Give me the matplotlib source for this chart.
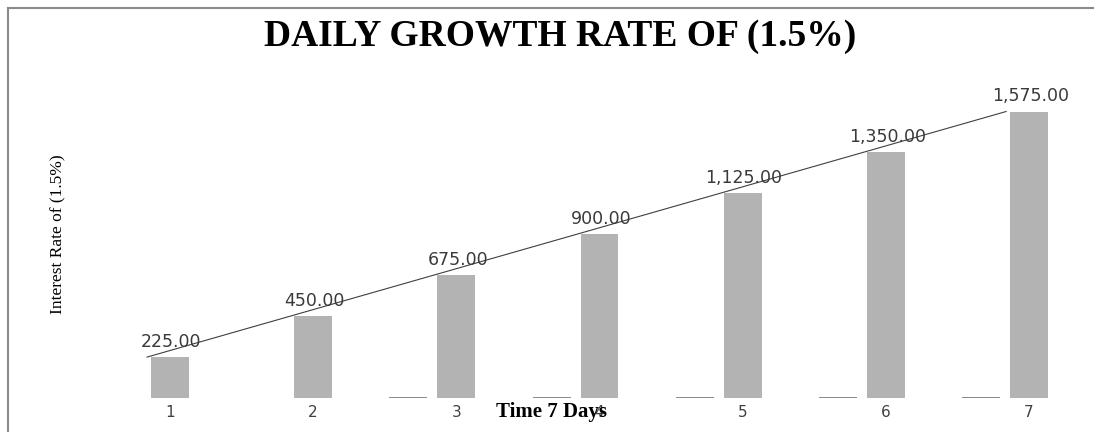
import matplotlib
matplotlib.use("Agg")
import matplotlib.pyplot as plt
import numpy as np
from matplotlib.lines import Line2D

# ---- data ----
days = [1, 2, 3, 4, 5, 6, 7]
day_labels = ["1", "2", "3", "4", "5", "6", "7"]
day_series = [1, 2, 3, 4, 5, 6, 7]
interest = [225, 450, 675, 900, 1125, 1350, 1575]
title = "DAILY GROWTH RATE OF (1.5%)"
ylabel = "Interest Rate of (1.5%)"
xlabel = "Time 7 Days"

W_PX, H_PX = 1094, 432
fig = plt.figure(figsize=(W_PX / 100, H_PX / 100), dpi=100)

# axes in pixel geometry
ax_l, ax_r, ax_top, ax_bot = 100, 1080, 80, 398
ax = fig.add_axes([ax_l / W_PX, (H_PX - ax_bot) / H_PX,
                   (ax_r - ax_l) / W_PX, (ax_bot - ax_top) / H_PX])

x = np.array(days, dtype=float)
bar_w = 0.265
ax.bar(x - 0.335, day_series, width=bar_w, color="#8c8c8c", zorder=2)
ax.bar(x, interest, width=bar_w, color="#b3b3b3", zorder=2)
ax.plot(x - 0.16, interest, color="#404040", lw=0.8, zorder=3)

for xi, v in zip(x, interest):
    ax.annotate(f"{v:,.2f}", (xi, v), xytext=(1, 11), textcoords="offset points",
                ha="center", va="center", fontsize=12.5, color="#3a3a3a",
                family="DejaVu Sans", zorder=4)

ax.set_xlim((ax_l - 26.83) / 143.17, (ax_r - 26.83) / 143.17)
ax.set_ylim(0, (ax_bot - ax_top) / 0.1819)
ax.set_xticks(x)
ax.set_xticklabels(day_labels, fontsize=11, color="#404040", family="DejaVu Sans")
ax.tick_params(axis="x", length=0, pad=5)
ax.set_yticks([])
for s in ax.spines.values():
    s.set_visible(False)
ax.patch.set_alpha(0)

# titles
fig.text(560 / W_PX, 1 - 37 / H_PX, title, ha="center", va="center",
         fontsize=27, fontweight="bold", family="Liberation Serif", color="black")
fig.text(58 / W_PX, 1 - 234 / H_PX, ylabel, ha="center", va="center", rotation=90,
         fontsize=12.5, family="Liberation Serif", color="black")
fig.text(552 / W_PX, 1 - 412 / H_PX, xlabel, ha="center", va="center",
         fontsize=15, fontweight="bold", family="Liberation Serif", color="black")

# outer border (top and left visible)
fig.add_artist(Line2D([8 / W_PX, 1.0], [1 - 8 / H_PX, 1 - 8 / H_PX],
                      transform=fig.transFigure, color="#8a8a8a", lw=1.5))
fig.add_artist(Line2D([8 / W_PX, 8 / W_PX], [0.0, 1 - 8 / H_PX],
                      transform=fig.transFigure, color="#8a8a8a", lw=1.5))

fig.savefig("out.png", dpi=100, facecolor="white")
